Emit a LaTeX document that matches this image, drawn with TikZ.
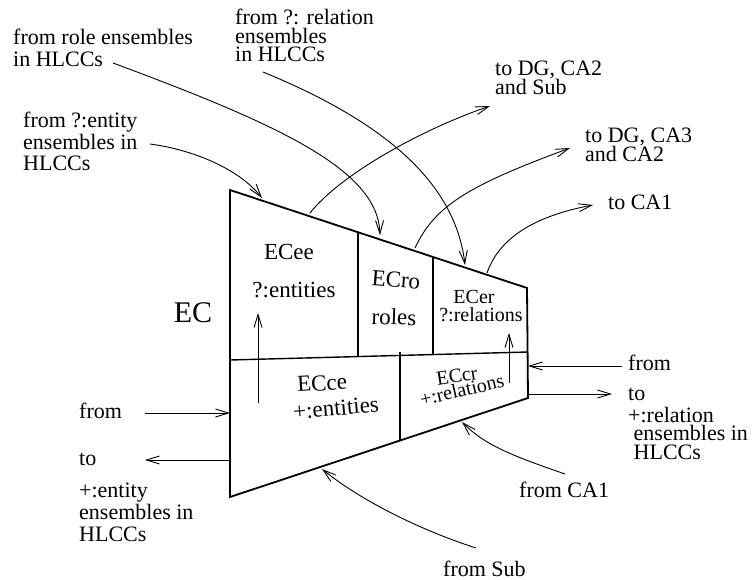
\documentclass[tikz,border=0pt]{standalone}
\usepackage{fontspec}
\setmainfont{Liberation Serif}
\usetikzlibrary{arrows.meta}
\begin{document}
\begin{tikzpicture}[x=1pt,y=-1pt,
  lbl/.style={font=\fontsize{22}{21}\selectfont, inner sep=0pt, anchor=base west, align=left},
  box/.style={font=\fontsize{23}{23}\selectfont, inner sep=0pt},
  sbox/.style={font=\fontsize{20}{20}\selectfont, inner sep=0pt},
  conn/.style={line width=0.9pt, -{Straight Barb[length=13pt,width=8pt,line width=0.9pt]}},
  outline/.style={line width=1.8pt, line join=miter},
  divider/.style={line width=1.4pt}]
\useasboundingbox (0,0) rectangle (752,580);

% trapezoid
\coordinate (TL) at (230,190);
\coordinate (TR) at (527,288);
\coordinate (BR) at (528,398);
\coordinate (BL) at (230,497);
\draw[outline] (TL) -- (TR) -- (BR) -- (BL) -- cycle;
\coordinate (ML) at (230,360);
\coordinate (MR) at (528,352);
\draw[divider] (ML) -- (MR);
\coordinate (d1t) at (358,233);
\coordinate (d1b) at (358,357);
\coordinate (d2t) at (433,258);
\coordinate (d2b) at (433,355);
\coordinate (d3t) at (400,352);
\coordinate (d3b) at (400,440);
\draw[divider] (d1t) -- (d1b);
\draw[divider] (d2t) -- (d2b);
\draw[divider] (d3t) -- (d3b);

% box labels
\node[font=\fontsize{30}{30}\selectfont, inner sep=0pt] (ec) at (193,313) {EC};
\node[box] (ecee) at (289,252) {ECee};
\node[box] (ecee2) at (294,290) {?:entities};
\node[box, rotate=-4] (ecro) at (396,280) {ECro};
\node[box, rotate=-2] (ecro2) at (394,317) {roles};
\node[sbox] (ecer) at (474,297) {ECer};
\node[sbox] (ecer2) at (481,315) {?:relations};
\node[box, rotate=3] (ecce) at (322,383) {ECce};
\node[box, rotate=5] (ecce2) at (336,408) {+:entities};
\node[sbox, rotate=9] (eccr) at (457,376) {ECcr};
\node[sbox, rotate=13] (eccr2) at (462,390) {+:relations};

% inner vertical arrows
\coordinate (v1s) at (258,403);
\coordinate (v1e) at (258,313);
\draw[conn] (v1s) -- (v1e);
\coordinate (v2s) at (509,383);
\coordinate (v2e) at (509,333);
\draw[conn] (v2s) -- (v2e);

% outer labels (anchor = baseline of the last line)
\node[lbl, font=\fontsize{22}{22}\selectfont] (lrole) at (13,67) {from role ensembles\\in HLCCs};
\node[lbl, font=\fontsize{22}{18.5}\selectfont] (lrel) at (235,62) {from ?: relation\\ensembles\\in HLCCs};
\node[lbl, font=\fontsize{22}{21.5}\selectfont] (lent) at (23,171) {from ?:entity\\ensembles in\\HLCCs};
\node[lbl, font=\fontsize{22}{18}\selectfont] (lsub) at (495,95) {to DG, CA2\\and Sub};
\node[lbl, font=\fontsize{22}{19}\selectfont] (lca3) at (585,162) {to DG, CA3\\and CA2};
\node[lbl] (lca1) at (608,210) {to CA1};
\node[lbl] (lfroml) at (79,418) {from};
\node[lbl] (ltol) at (79,465) {to};
\node[lbl, font=\fontsize{22}{22}\selectfont] (lentp) at (79,541) {+:entity\\ensembles in\\HLCCs};
\node[lbl] (lfromr) at (628,370) {from};
\node[lbl] (ltor) at (628,400) {to};
\node[lbl, font=\fontsize{22}{18.5}\selectfont] (lrelp) at (628,459) {+:relation\\\ ensembles in\\\ HLCCs};
\node[lbl] (lfca1) at (519,497) {from CA1};
\node[lbl] (lfsub) at (443,576) {from Sub};

% connectors
\coordinate (a1s) at (150,144); \coordinate (a1e) at (262,198);
\draw[conn] (a1s) .. controls (195,150) and (240,170) .. (a1e);
\coordinate (a2s) at (113,63); \coordinate (a2e) at (380,235);
\draw[conn] (a2s) .. controls (280,125) and (378,170) .. (a2e);
\coordinate (a3s) at (263,72); \coordinate (a3e) at (465,265);
\draw[conn] (a3s) .. controls (380,120) and (455,180) .. (a3e);
\coordinate (a4s) at (310,213); \coordinate (a4e) at (490,106);
\draw[conn] (a4s) .. controls (340,175) and (420,130) .. (a4e);
\coordinate (a5s) at (415,248); \coordinate (a5e) at (570,148);
\draw[conn] (a5s) .. controls (435,205) and (470,185) .. (a5e);
\coordinate (a6s) at (487,273); \coordinate (a6e) at (593,205);
\draw[conn] (a6s) .. controls (500,235) and (540,215) .. (a6e);
\coordinate (a7s) at (565,474); \coordinate (a7e) at (462,422);
\draw[conn] (a7s) .. controls (510,455) and (485,445) .. (a7e);
\coordinate (a8s) at (476,548); \coordinate (a8e) at (322,469);
\draw[conn] (a8s) .. controls (420,530) and (360,500) .. (a8e);
\coordinate (a9s) at (145,413); \coordinate (a9e) at (230,413);
\draw[conn] (a9s) -- (a9e);
\coordinate (a10s) at (230,460); \coordinate (a10e) at (145,460);
\draw[conn] (a10s) -- (a10e);
\coordinate (a11s) at (622,366); \coordinate (a11e) at (528,366);
\draw[conn] (a11s) -- (a11e);
\coordinate (a12s) at (528,394); \coordinate (a12e) at (612,394);
\draw[conn] (a12s) -- (a12e);
\end{tikzpicture}
\end{document}
